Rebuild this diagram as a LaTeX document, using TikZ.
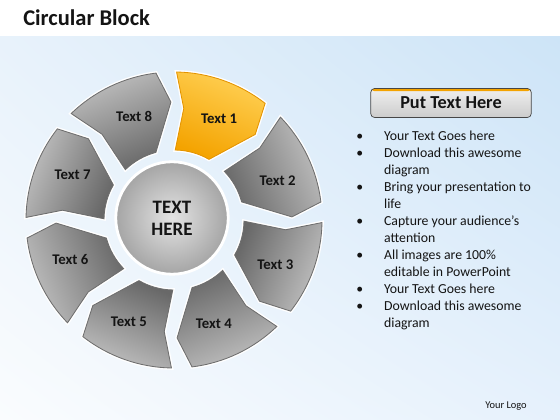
\documentclass[tikz,border=0pt]{standalone}
\usepackage{fontspec}
\setmainfont{Carlito}
\usetikzlibrary{shadings}
\definecolor{bgUL}{RGB}{232,242,251}
\definecolor{bgUR}{RGB}{205,228,247}
\definecolor{bgLL}{RGB}{250,252,254}
\definecolor{bgLR}{RGB}{230,241,252}
\definecolor{greyLo}{RGB}{104,104,104}
\definecolor{greyHi}{RGB}{192,192,192}
\definecolor{greyLine}{RGB}{110,110,110}
\definecolor{orangeLo}{RGB}{244,163,0}
\definecolor{orangeHi}{RGB}{255,208,84}
\definecolor{orangeLine}{RGB}{228,148,0}
\definecolor{hubIn}{RGB}{228,228,228}
\definecolor{hubOut}{RGB}{165,165,165}
\definecolor{inkText}{RGB}{20,20,20}
\newcommand{\bul}{\makebox[19.8pt][l]{\textbullet}}
\newcommand{\ind}{\hspace*{19.8pt}}
\tikzset{
  seglabel/.style={font=\fontsize{10.5}{12}\selectfont\bfseries, text=inkText},
  hub/.style={circle, minimum size=80pt, inner sep=0pt, draw=white, line width=2pt,
    inner color=hubIn, outer color=hubOut, align=center,
    font=\fontsize{13.5}{15.6}\selectfont\bfseries, text=inkText},
  btnbox/.style={rectangle, rounded corners=2.5pt, minimum width=114pt, minimum height=20.5pt,
    top color=gray!12, bottom color=gray!40, draw=gray!55!black, line width=0.5pt,
    font=\fontsize{13}{15}\selectfont\bfseries, text=inkText,
    path picture={\fill[orangeLo] (path picture bounding box.north west)
      rectangle ([yshift=-1.8pt]path picture bounding box.north east);}},
  bulletlist/.style={align=left, inner sep=0pt, font=\fontsize{9.8}{12.05}\selectfont, text=inkText},
}
\begin{document}
\begin{tikzpicture}[x=0.025cm, y=0.025cm]
  \useasboundingbox (0,0) rectangle (560,420);
  % background
  \fill[white] (0,383) rectangle (560,420);
  \shade[upper left=bgUL, upper right=bgUR, lower left=bgLL, lower right=bgLR] (0,0) rectangle (560,383);
  \node[anchor=base west, inner sep=0pt, font=\fontsize{16}{18}\selectfont\bfseries, text=inkText] (title) at (23,394) {Circular Block};

  % ring of blocks
  \begin{scope}[shift={(174,200)}]
    \foreach \i/\lo/\hi/\rim in {1/orangeLo/orangeHi/orangeLine, 2/greyLo/greyHi/greyLine,
        3/greyLo/greyHi/greyLine, 4/greyLo/greyHi/greyLine, 5/greyLo/greyHi/greyLine,
        6/greyLo/greyHi/greyLine, 7/greyLo/greyHi/greyLine, 8/greyLo/greyHi/greyLine}{
      \pgfmathsetmacro\angA{135-45*\i}
      \pgfmathsetmacro\angB{\angA-45}
      \pgfmathsetmacro\shadeang{\angA-112.5}
      \shade[preaction={draw=white, line width=2.6pt}, draw=\rim, line width=0.6pt,
          top color=\hi, bottom color=\lo, shading angle=\shadeang]
        (\angA-1:148) arc[start angle=\angA-1, end angle=\angB+7, radius=148]
        -- (\angB+1.5:118) -- (\angB+15:70)
        arc[start angle=\angB+15, end angle=\angA-1, radius=70]
        -- (\angA-5:112) -- cycle;
      \node[seglabel] (t\i) at (\angA-24:111) {Text \i};
    }
    \node[hub] (hub) at (-2,2) {TEXT\\HERE};
  \end{scope}

  % text panel
  \node[btnbox] (btn) at (451,317) {Put Text Here};
  \node[bulletlist, anchor=north west] (list) at (356,289) {%
    \bul Your Text Goes here\\
    \bul Download this awesome\\ \ind diagram\\
    \bul Bring your presentation to\\ \ind life\\
    \bul Capture your audience’s\\ \ind attention\\
    \bul All images are 100\%\\ \ind editable in PowerPoint\\
    \bul Your Text Goes here\\
    \bul Download this awesome\\ \ind diagram};
  \node[font=\fontsize{7.4}{9}\selectfont, text=inkText] (logo) at (506,14) {Your Logo};
\end{tikzpicture}
\end{document}
